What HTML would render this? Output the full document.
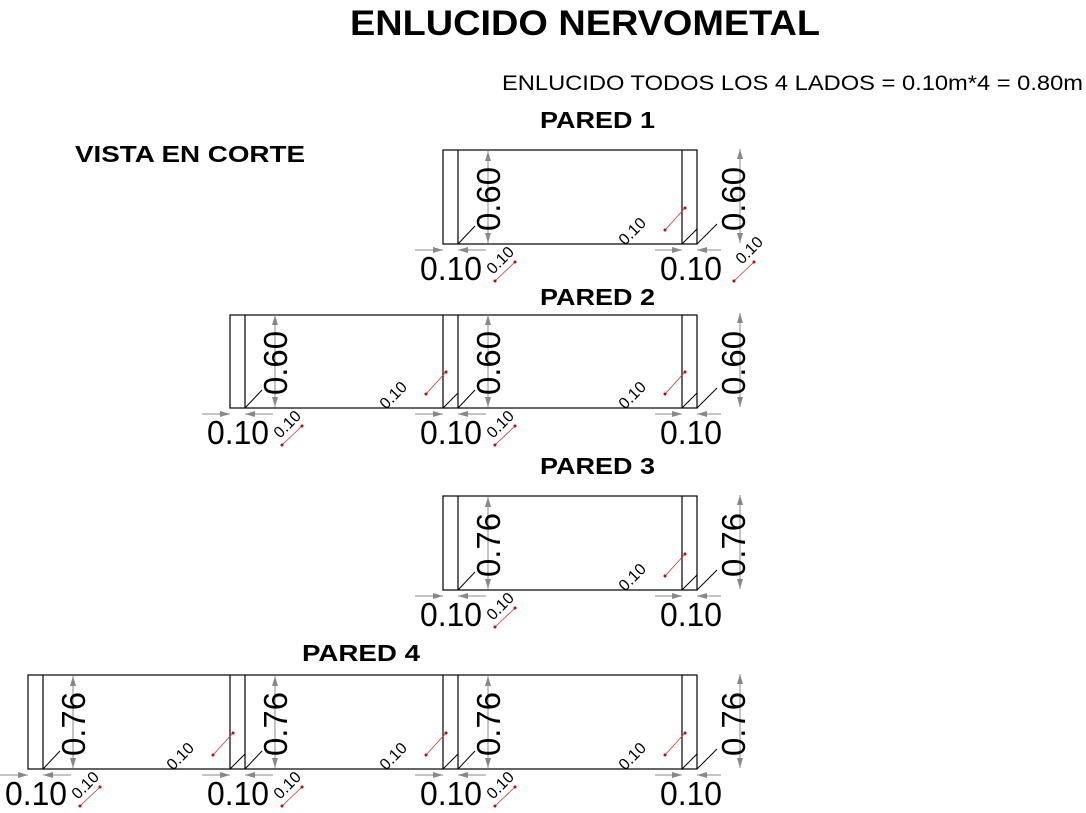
<!DOCTYPE html>
<html><head><meta charset="utf-8"><style>
html,body{margin:0;padding:0;background:#fff;}
svg{display:block;}
text{font-family:"Liberation Sans",sans-serif;}
.r{stroke:#c33;stroke-width:0.8;}
.s{font-size:16px;}
</style></head><body>
<svg width="1086" height="813" viewBox="0 0 1086 813" xmlns="http://www.w3.org/2000/svg">
<defs>
<marker id="a" viewBox="0 0 10 6" refX="10" refY="3" markerWidth="10" markerHeight="6" markerUnits="userSpaceOnUse" orient="auto"><path d="M0,0L10,3L0,6Z" fill="#888"/></marker>
<marker id="d" viewBox="0 0 4 4" refX="2" refY="2" markerWidth="3" markerHeight="3" markerUnits="userSpaceOnUse"><circle cx="2" cy="2" r="2" fill="#c00"/></marker>
</defs>
<text x="585" y="35" font-size="35" font-weight="bold" text-anchor="middle" textLength="470" lengthAdjust="spacingAndGlyphs">ENLUCIDO NERVOMETAL</text>
<text x="502" y="90" font-size="21" textLength="581" lengthAdjust="spacingAndGlyphs">ENLUCIDO TODOS LOS 4 LADOS = 0.10m*4 = 0.80m</text>
<text x="75" y="162" font-size="23" font-weight="bold" textLength="230" lengthAdjust="spacingAndGlyphs">VISTA EN CORTE</text>
<text x="540" y="128" font-size="23" font-weight="bold" textLength="115" lengthAdjust="spacingAndGlyphs">PARED 1</text>
<text x="540" y="305" font-size="23" font-weight="bold" textLength="115" lengthAdjust="spacingAndGlyphs">PARED 2</text>
<text x="540" y="474" font-size="23" font-weight="bold" textLength="115" lengthAdjust="spacingAndGlyphs">PARED 3</text>
<text x="302" y="661" font-size="23" font-weight="bold" textLength="118" lengthAdjust="spacingAndGlyphs">PARED 4</text>

<g fill="none" stroke="#000" stroke-width="1.2">
<rect x="443" y="150" width="254" height="94"/><line x1="458" y1="150" x2="458" y2="244"/><line x1="682" y1="150" x2="682" y2="244"/>
<rect x="230" y="315" width="467" height="93"/><line x1="245" y1="315" x2="245" y2="408"/><line x1="443" y1="315" x2="443" y2="408"/><line x1="458" y1="315" x2="458" y2="408"/><line x1="682" y1="315" x2="682" y2="408"/>
<rect x="443" y="496" width="254" height="94"/><line x1="458" y1="496" x2="458" y2="590"/><line x1="682" y1="496" x2="682" y2="590"/>
<rect x="28" y="675" width="669" height="94"/><line x1="43" y1="675" x2="43" y2="769"/><line x1="230" y1="675" x2="230" y2="769"/><line x1="245" y1="675" x2="245" y2="769"/><line x1="443" y1="675" x2="443" y2="769"/><line x1="458" y1="675" x2="458" y2="769"/><line x1="682" y1="675" x2="682" y2="769"/>
</g>

<g transform="translate(458,244)">
<line x1="30" y1="-47" x2="30" y2="-93" stroke="#888" marker-end="url(#a)"/><line x1="30" y1="-47" x2="30" y2="-1" stroke="#888" marker-end="url(#a)"/>
<text transform="translate(42,-45) rotate(-90)" font-size="33" text-anchor="middle" textLength="64" lengthAdjust="spacingAndGlyphs">0.60</text>
<line x1="0" y1="0" x2="17" y2="-18" stroke="#000"/>
<line x1="-43" y1="6" x2="-15" y2="6" stroke="#888" marker-end="url(#a)"/><line x1="28" y1="6" x2="0" y2="6" stroke="#888" marker-end="url(#a)"/>
<text x="-38" y="36" font-size="33" textLength="62" lengthAdjust="spacingAndGlyphs">0.10</text>
<text class="s" transform="translate(46,20) rotate(-45)" text-anchor="middle">0.10</text>
<line class="r" x1="37" y1="37" x2="57" y2="18" marker-start="url(#d)" marker-end="url(#d)"/>
</g>
<g transform="translate(245,408)">
<line x1="30" y1="-47" x2="30" y2="-93" stroke="#888" marker-end="url(#a)"/><line x1="30" y1="-47" x2="30" y2="-1" stroke="#888" marker-end="url(#a)"/>
<text transform="translate(42,-45) rotate(-90)" font-size="33" text-anchor="middle" textLength="64" lengthAdjust="spacingAndGlyphs">0.60</text>
<line x1="0" y1="0" x2="17" y2="-18" stroke="#000"/>
<line x1="-43" y1="6" x2="-15" y2="6" stroke="#888" marker-end="url(#a)"/><line x1="28" y1="6" x2="0" y2="6" stroke="#888" marker-end="url(#a)"/>
<text x="-38" y="36" font-size="33" textLength="62" lengthAdjust="spacingAndGlyphs">0.10</text>
<text class="s" transform="translate(46,20) rotate(-45)" text-anchor="middle">0.10</text>
<line class="r" x1="37" y1="37" x2="57" y2="18" marker-start="url(#d)" marker-end="url(#d)"/>
</g>
<g transform="translate(458,408)">
<line x1="30" y1="-47" x2="30" y2="-93" stroke="#888" marker-end="url(#a)"/><line x1="30" y1="-47" x2="30" y2="-1" stroke="#888" marker-end="url(#a)"/>
<text transform="translate(42,-45) rotate(-90)" font-size="33" text-anchor="middle" textLength="64" lengthAdjust="spacingAndGlyphs">0.60</text>
<line x1="0" y1="0" x2="17" y2="-18" stroke="#000"/>
<line x1="-43" y1="6" x2="-15" y2="6" stroke="#888" marker-end="url(#a)"/><line x1="28" y1="6" x2="0" y2="6" stroke="#888" marker-end="url(#a)"/>
<text x="-38" y="36" font-size="33" textLength="62" lengthAdjust="spacingAndGlyphs">0.10</text>
<text class="s" transform="translate(46,20) rotate(-45)" text-anchor="middle">0.10</text>
<line class="r" x1="37" y1="37" x2="57" y2="18" marker-start="url(#d)" marker-end="url(#d)"/>
</g>
<g transform="translate(458,590)">
<line x1="30" y1="-47" x2="30" y2="-93" stroke="#888" marker-end="url(#a)"/><line x1="30" y1="-47" x2="30" y2="-1" stroke="#888" marker-end="url(#a)"/>
<text transform="translate(42,-45) rotate(-90)" font-size="33" text-anchor="middle" textLength="64" lengthAdjust="spacingAndGlyphs">0.76</text>
<line x1="0" y1="0" x2="17" y2="-18" stroke="#000"/>
<line x1="-43" y1="6" x2="-15" y2="6" stroke="#888" marker-end="url(#a)"/><line x1="28" y1="6" x2="0" y2="6" stroke="#888" marker-end="url(#a)"/>
<text x="-38" y="36" font-size="33" textLength="62" lengthAdjust="spacingAndGlyphs">0.10</text>
<text class="s" transform="translate(46,20) rotate(-45)" text-anchor="middle">0.10</text>
<line class="r" x1="37" y1="37" x2="57" y2="18" marker-start="url(#d)" marker-end="url(#d)"/>
</g>
<g transform="translate(43,769)">
<line x1="30" y1="-47" x2="30" y2="-93" stroke="#888" marker-end="url(#a)"/><line x1="30" y1="-47" x2="30" y2="-1" stroke="#888" marker-end="url(#a)"/>
<text transform="translate(42,-45) rotate(-90)" font-size="33" text-anchor="middle" textLength="64" lengthAdjust="spacingAndGlyphs">0.76</text>
<line x1="0" y1="0" x2="17" y2="-18" stroke="#000"/>
<line x1="-43" y1="6" x2="-15" y2="6" stroke="#888" marker-end="url(#a)"/><line x1="28" y1="6" x2="0" y2="6" stroke="#888" marker-end="url(#a)"/>
<text x="-38" y="36" font-size="33" textLength="62" lengthAdjust="spacingAndGlyphs">0.10</text>
<text class="s" transform="translate(46,20) rotate(-45)" text-anchor="middle">0.10</text>
<line class="r" x1="37" y1="37" x2="57" y2="18" marker-start="url(#d)" marker-end="url(#d)"/>
</g>
<g transform="translate(245,769)">
<line x1="30" y1="-47" x2="30" y2="-93" stroke="#888" marker-end="url(#a)"/><line x1="30" y1="-47" x2="30" y2="-1" stroke="#888" marker-end="url(#a)"/>
<text transform="translate(42,-45) rotate(-90)" font-size="33" text-anchor="middle" textLength="64" lengthAdjust="spacingAndGlyphs">0.76</text>
<line x1="0" y1="0" x2="17" y2="-18" stroke="#000"/>
<line x1="-43" y1="6" x2="-15" y2="6" stroke="#888" marker-end="url(#a)"/><line x1="28" y1="6" x2="0" y2="6" stroke="#888" marker-end="url(#a)"/>
<text x="-38" y="36" font-size="33" textLength="62" lengthAdjust="spacingAndGlyphs">0.10</text>
<text class="s" transform="translate(46,20) rotate(-45)" text-anchor="middle">0.10</text>
<line class="r" x1="37" y1="37" x2="57" y2="18" marker-start="url(#d)" marker-end="url(#d)"/>
</g>
<g transform="translate(458,769)">
<line x1="30" y1="-47" x2="30" y2="-93" stroke="#888" marker-end="url(#a)"/><line x1="30" y1="-47" x2="30" y2="-1" stroke="#888" marker-end="url(#a)"/>
<text transform="translate(42,-45) rotate(-90)" font-size="33" text-anchor="middle" textLength="64" lengthAdjust="spacingAndGlyphs">0.76</text>
<line x1="0" y1="0" x2="17" y2="-18" stroke="#000"/>
<line x1="-43" y1="6" x2="-15" y2="6" stroke="#888" marker-end="url(#a)"/><line x1="28" y1="6" x2="0" y2="6" stroke="#888" marker-end="url(#a)"/>
<text x="-38" y="36" font-size="33" textLength="62" lengthAdjust="spacingAndGlyphs">0.10</text>
<text class="s" transform="translate(46,20) rotate(-45)" text-anchor="middle">0.10</text>
<line class="r" x1="37" y1="37" x2="57" y2="18" marker-start="url(#d)" marker-end="url(#d)"/>
</g>

<g transform="translate(682,244)"><text class="s" transform="translate(-46,-9) rotate(-45)" text-anchor="middle">0.10</text><line class="r" x1="-17" y1="-14" x2="3" y2="-36" marker-start="url(#d)" marker-end="url(#d)"/></g>
<g transform="translate(443,408)"><text class="s" transform="translate(-46,-9) rotate(-45)" text-anchor="middle">0.10</text><line class="r" x1="-17" y1="-14" x2="3" y2="-36" marker-start="url(#d)" marker-end="url(#d)"/><line x1="0" y1="0" x2="15" y2="-15" stroke="#000"/></g>
<g transform="translate(682,408)"><text class="s" transform="translate(-46,-9) rotate(-45)" text-anchor="middle">0.10</text><line class="r" x1="-17" y1="-14" x2="3" y2="-36" marker-start="url(#d)" marker-end="url(#d)"/></g>
<g transform="translate(682,590)"><text class="s" transform="translate(-46,-9) rotate(-45)" text-anchor="middle">0.10</text><line class="r" x1="-17" y1="-14" x2="3" y2="-36" marker-start="url(#d)" marker-end="url(#d)"/></g>
<g transform="translate(230,769)"><text class="s" transform="translate(-46,-9) rotate(-45)" text-anchor="middle">0.10</text><line class="r" x1="-17" y1="-14" x2="3" y2="-36" marker-start="url(#d)" marker-end="url(#d)"/><line x1="0" y1="0" x2="15" y2="-15" stroke="#000"/></g>
<g transform="translate(443,769)"><text class="s" transform="translate(-46,-9) rotate(-45)" text-anchor="middle">0.10</text><line class="r" x1="-17" y1="-14" x2="3" y2="-36" marker-start="url(#d)" marker-end="url(#d)"/><line x1="0" y1="0" x2="15" y2="-15" stroke="#000"/></g>
<g transform="translate(682,769)"><text class="s" transform="translate(-46,-9) rotate(-45)" text-anchor="middle">0.10</text><line class="r" x1="-17" y1="-14" x2="3" y2="-36" marker-start="url(#d)" marker-end="url(#d)"/></g>

<g transform="translate(697,244)">
<line x1="-15" y1="0" x2="0" y2="-15" stroke="#000"/>
<line x1="0" y1="0" x2="20" y2="-20" stroke="#000"/>
<line x1="43" y1="-47" x2="43" y2="-95" stroke="#888" marker-end="url(#a)"/><line x1="43" y1="-47" x2="43" y2="-1" stroke="#888" marker-end="url(#a)"/>
<text transform="translate(48,-45) rotate(-90)" font-size="33" text-anchor="middle" textLength="64" lengthAdjust="spacingAndGlyphs">0.60</text>
<line x1="-42" y1="6" x2="-15" y2="6" stroke="#888" marker-end="url(#a)"/><line x1="24" y1="6" x2="0" y2="6" stroke="#888" marker-end="url(#a)"/>
<text x="-37" y="36" font-size="33" textLength="62" lengthAdjust="spacingAndGlyphs">0.10</text>
<text class="s" transform="translate(56,10) rotate(-45)" text-anchor="middle">0.10</text>
<line class="r" x1="37" y1="37" x2="57" y2="18" marker-start="url(#d)" marker-end="url(#d)"/>
</g>
<g transform="translate(697,408)">
<line x1="-15" y1="0" x2="0" y2="-15" stroke="#000"/>
<line x1="0" y1="0" x2="20" y2="-20" stroke="#000"/>
<line x1="43" y1="-47" x2="43" y2="-95" stroke="#888" marker-end="url(#a)"/><line x1="43" y1="-47" x2="43" y2="-1" stroke="#888" marker-end="url(#a)"/>
<text transform="translate(48,-45) rotate(-90)" font-size="33" text-anchor="middle" textLength="64" lengthAdjust="spacingAndGlyphs">0.60</text>
<line x1="-42" y1="6" x2="-15" y2="6" stroke="#888" marker-end="url(#a)"/><line x1="24" y1="6" x2="0" y2="6" stroke="#888" marker-end="url(#a)"/>
<text x="-37" y="36" font-size="33" textLength="62" lengthAdjust="spacingAndGlyphs">0.10</text>
</g>
<g transform="translate(697,590)">
<line x1="-15" y1="0" x2="0" y2="-15" stroke="#000"/>
<line x1="0" y1="0" x2="20" y2="-20" stroke="#000"/>
<line x1="43" y1="-47" x2="43" y2="-95" stroke="#888" marker-end="url(#a)"/><line x1="43" y1="-47" x2="43" y2="-1" stroke="#888" marker-end="url(#a)"/>
<text transform="translate(48,-45) rotate(-90)" font-size="33" text-anchor="middle" textLength="64" lengthAdjust="spacingAndGlyphs">0.76</text>
<line x1="-42" y1="6" x2="-15" y2="6" stroke="#888" marker-end="url(#a)"/><line x1="24" y1="6" x2="0" y2="6" stroke="#888" marker-end="url(#a)"/>
<text x="-37" y="36" font-size="33" textLength="62" lengthAdjust="spacingAndGlyphs">0.10</text>
</g>
<g transform="translate(697,769)">
<line x1="-15" y1="0" x2="0" y2="-15" stroke="#000"/>
<line x1="0" y1="0" x2="20" y2="-20" stroke="#000"/>
<line x1="43" y1="-47" x2="43" y2="-95" stroke="#888" marker-end="url(#a)"/><line x1="43" y1="-47" x2="43" y2="-1" stroke="#888" marker-end="url(#a)"/>
<text transform="translate(48,-45) rotate(-90)" font-size="33" text-anchor="middle" textLength="64" lengthAdjust="spacingAndGlyphs">0.76</text>
<line x1="-42" y1="6" x2="-15" y2="6" stroke="#888" marker-end="url(#a)"/><line x1="24" y1="6" x2="0" y2="6" stroke="#888" marker-end="url(#a)"/>
<text x="-37" y="36" font-size="33" textLength="62" lengthAdjust="spacingAndGlyphs">0.10</text>
</g>
</svg>
</body></html>
